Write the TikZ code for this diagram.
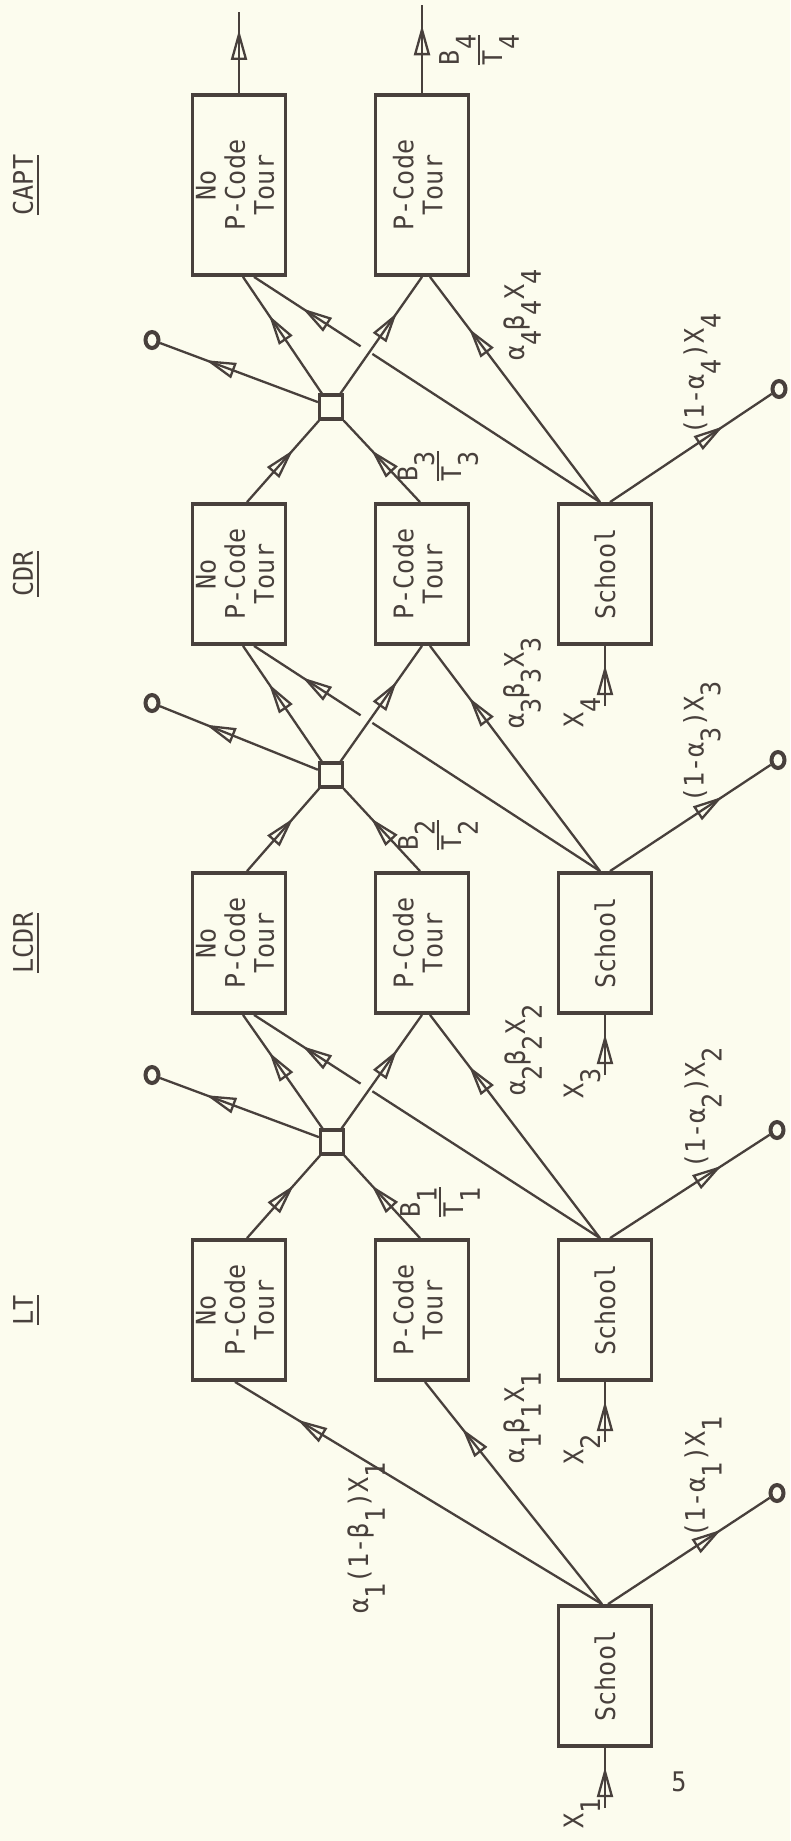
\documentclass[tikz,border=0pt]{standalone}
\usepackage{fontspec}
\usetikzlibrary{arrows.meta,decorations.markings,calc,shapes.geometric}
\newfontfamily\tw[FakeStretch=0.93]{DejaVu Sans Mono}
\definecolor{bgc}{RGB}{252,252,238}
\definecolor{inkc}{RGB}{72,64,60}
\newcommand\lab{\tw\fontsize{27}{29}\selectfont}
\newcommand\sbs[1]{\raisebox{-0.62em}{#1}}
\newcommand\rot[1]{\rotatebox{90}{\lab #1}}
\newcommand\rtab[1]{\rotatebox{90}{\lab\begin{tabular}{@{}c@{}}#1\end{tabular}}}
\newcommand\frc[1]{\rotatebox{90}{\lab\vbox{\offinterlineskip\halign{\hfil##\hfil\cr B\sbs{#1}\cr\noalign{\kern2pt\hrule height 2pt\kern3pt}T\sbs{#1}\cr}}}}
\newcommand\ttl[1]{\rotatebox{90}{\lab\vbox{\hbox{#1}\kern4pt\hrule height 2pt}}}
\tikzset{
  oarr/.tip={Triangle[open,length=30pt,width=16pt]},
  ink/.style={draw=inkc,line width=2.3pt},
  flow/.style={ink,postaction={decorate},decoration={markings,mark=at position #1 with {\arrow{oarr}}}},
  box/.style={rectangle,draw=inkc,line width=3.8pt,minimum width=93pt,minimum height=140pt,inner sep=0pt},
  tallbox/.style={box,minimum height=180pt},
  jn/.style={rectangle,draw=inkc,line width=3.2pt,minimum width=23pt,minimum height=24pt,inner sep=0pt},
  term/.style={ellipse,draw=inkc,line width=4pt,minimum width=13pt,minimum height=16pt,inner sep=0pt},
  lbl/.style={inner sep=0pt,text=inkc}
}
\begin{document}
\begin{tikzpicture}[x=1pt,y=-1pt,color=inkc]
\fill[bgc] (0,0) rectangle (790,1841);
\useasboundingbox (0,0) rectangle (790,1841);

% titles
\node[lbl] (tCAPT) at (26,185) {\ttl{CAPT}};
\node[lbl] (tCDR) at (26,574) {\ttl{CDR}};
\node[lbl] (tLCDR) at (26,943) {\ttl{LCDR}};
\node[lbl] (tLT) at (26,1310) {\ttl{LT}};

% boxes
\node[tallbox] (n4) at (239,185) {\rtab{No\\P-Code\\Tour}};
\node[tallbox] (p4) at (422,185) {\rtab{P-Code\\Tour}};
\node[box] (n3) at (239,574) {\rtab{No\\P-Code\\Tour}};
\node[box] (p3) at (422,574) {\rtab{P-Code\\Tour}};
\node[box] (s4) at (605,574) {\rot{School}};
\node[box] (n2) at (239,943) {\rtab{No\\P-Code\\Tour}};
\node[box] (p2) at (422,943) {\rtab{P-Code\\Tour}};
\node[box] (s3) at (605,943) {\rot{School}};
\node[box] (n1) at (239,1310) {\rtab{No\\P-Code\\Tour}};
\node[box] (p1) at (422,1310) {\rtab{P-Code\\Tour}};
\node[box] (s2) at (605,1310) {\rot{School}};
\node[box] (s1) at (605,1676) {\rot{School}};

% junctions
\node[jn] (q3) at (331,407) {};
\node[jn] (q2) at (331,775) {};
\node[jn] (q1) at (332,1142) {};

% terminals
\node[term] (o3) at (152,340) {};
\node[term] (o2) at (152,703) {};
\node[term] (o1) at (152,1075) {};
\node[term] (r4) at (779,389) {};
\node[term] (r3) at (778,760) {};
\node[term] (r2) at (777,1130) {};
\node[term] (r1) at (777,1493) {};

% free ends
\coordinate (outN) at (239,12);
\coordinate (outP) at (422,5);
\coordinate (in4) at (605,706);
\coordinate (in3) at (605,1075);
\coordinate (in2) at (605,1442);
\coordinate (in1) at (605,1808);

% first school
\draw[flow=0.83] ($(s1.north)+(-3,0)$) -- ($(n1.south)+(-4,0)$);
\draw[flow=0.79] ($(s1.north)+(-3,0)$) -- ($(p1.south)+(3,0)$);
\draw[flow=0.70] ($(s1.north)+(3,0)$) -- (r1);

% stages
\foreach \k/\kk in {1/2,2/3,3/4}{
  \draw[flow=0.64] ($(n\k.north)+(8,0)$) -- (q\k);
  \draw[flow=0.64] ($(p\k.north)+(-2,0)$) -- (q\k);
  \draw[flow=0.71] (q\k) -- (o\k);
  \draw[flow=0.67] (q\k) -- ($(n\kk.south)+(4,0)$);
  \draw[flow=0.86] ($(s\kk.north)+(-5,0)$) coordinate (a) -- ($(n\kk.south)+(15,0)$) coordinate (b);
  \fill[bgc] ($(a)!0.675!(b)$) circle (7pt);
  \draw[flow=0.69] (q\k) -- (p\kk.south);
  \draw[flow=0.77] ($(s\kk.north)+(-5,0)$) -- ($(p\kk.south)+(8,0)$);
  \draw[flow=0.70] ($(s\kk.north)+(5,0)$) -- (r\kk);
}

% outputs
\draw[flow=0.78] (n4.north) -- (outN);
\draw[flow=0.77] (p4.north) -- (outP);

% inputs
\draw[flow=0.68] (in4) -- (s4);
\draw[flow=0.68] (in3) -- (s3);
\draw[flow=0.68] (in2) -- (s2);
\draw[flow=0.68] (in1) -- (s1);

% labels
\node[lbl] (f4) at (479,50) {\frc{4}};
\node[lbl] (f3) at (438,466) {\frc{3}};
\node[lbl] (f2) at (438,835) {\frc{2}};
\node[lbl] (f1) at (440,1202) {\frc{1}};

\node[lbl] (ab4) at (522,315) {\rot{α\sbs{4}β\sbs{4}X\sbs{4}}};
\node[lbl] (ab3) at (522,683) {\rot{α\sbs{3}β\sbs{3}X\sbs{3}}};
\node[lbl] (ab2) at (523,1050) {\rot{α\sbs{2}β\sbs{2}X\sbs{2}}};
\node[lbl] (ab1) at (522,1418) {\rot{α\sbs{1}β\sbs{1}X\sbs{1}}};

\node[lbl] (la4) at (702,374) {\rot{(1-α\sbs{4})X\sbs{4}}};
\node[lbl] (la3) at (702,742) {\rot{(1-α\sbs{3})X\sbs{3}}};
\node[lbl] (la2) at (703,1108) {\rot{(1-α\sbs{2})X\sbs{2}}};
\node[lbl] (la1) at (703,1477) {\rot{(1-α\sbs{1})X\sbs{1}}};

\node[lbl] (x4) at (582,712) {\rot{X\sbs{4}}};
\node[lbl] (x3) at (582,1083) {\rot{X\sbs{3}}};
\node[lbl] (x2) at (582,1449) {\rot{X\sbs{2}}};
\node[lbl] (x1) at (582,1813) {\rot{X\sbs{1}}};

\node[lbl] (lab1) at (366,1538) {\rot{α\sbs{1}(1-β\sbs{1})X\sbs{1}}};

\node[lbl] (pg) at (679,1782) {\lab 5};
\end{tikzpicture}
\end{document}
